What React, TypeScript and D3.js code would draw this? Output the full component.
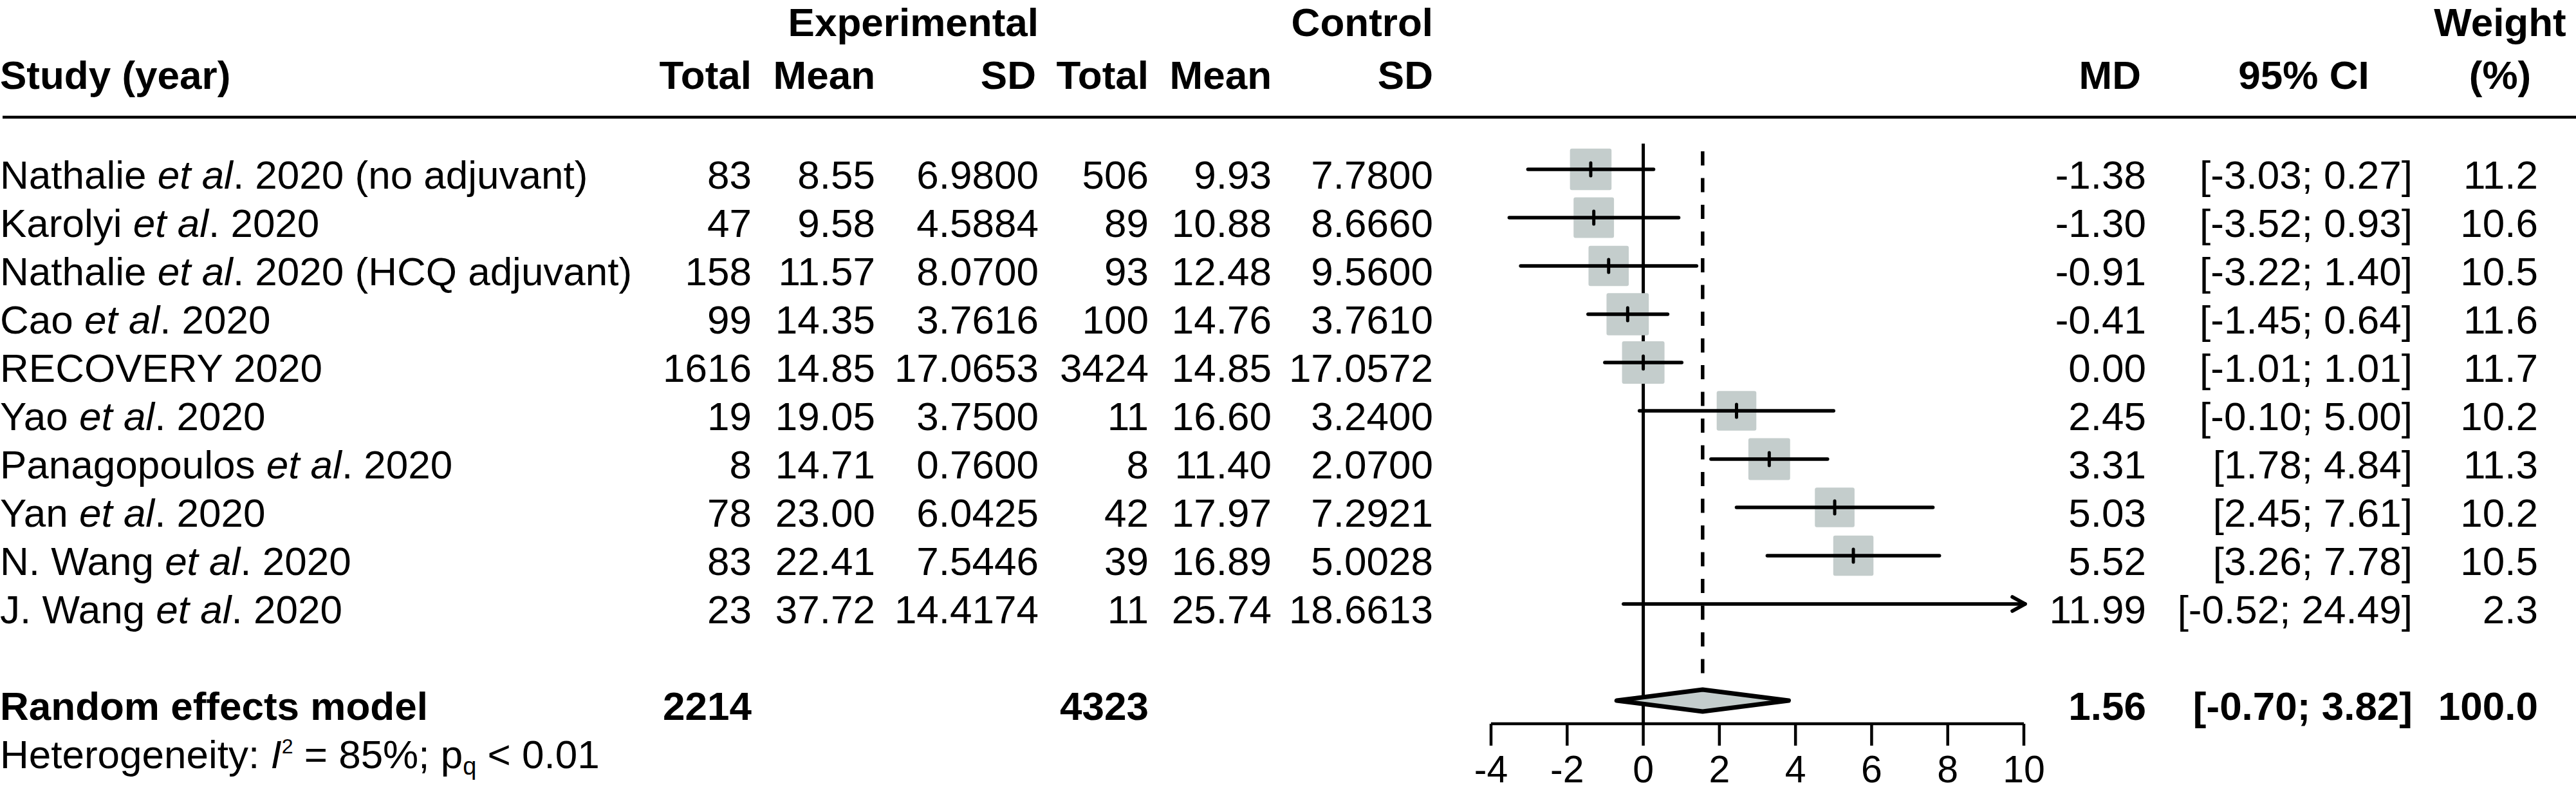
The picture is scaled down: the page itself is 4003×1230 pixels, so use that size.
import React from "react";
import * as d3 from "d3";

const studies = [
  ["Nathalie ", "et al", ". 2020 (no adjuvant)"],
  ["Karolyi ", "et al", ". 2020"],
  ["Nathalie ", "et al", ". 2020 (HCQ adjuvant)"],
  ["Cao ", "et al", ". 2020"],
  ["RECOVERY 2020", "", ""],
  ["Yao ", "et al", ". 2020"],
  ["Panagopoulos ", "et al", ". 2020"],
  ["Yan ", "et al", ". 2020"],
  ["N. Wang ", "et al", ". 2020"],
  ["J. Wang ", "et al", ". 2020"],
];
const expTotal = ["83", "47", "158", "99", "1616", "19", "8", "78", "83", "23"];
const expMean = ["8.55", "9.58", "11.57", "14.35", "14.85", "19.05", "14.71", "23.00", "22.41", "37.72"];
const expSD = ["6.9800", "4.5884", "8.0700", "3.7616", "17.0653", "3.7500", "0.7600", "6.0425", "7.5446", "14.4174"];
const ctrlTotal = ["506", "89", "93", "100", "3424", "11", "8", "42", "39", "11"];
const ctrlMean = ["9.93", "10.88", "12.48", "14.76", "14.85", "16.60", "11.40", "17.97", "16.89", "25.74"];
const ctrlSD = ["7.7800", "8.6660", "9.5600", "3.7610", "17.0572", "3.2400", "2.0700", "7.2921", "5.0028", "18.6613"];
const md = [-1.38, -1.3, -0.91, -0.41, 0.0, 2.45, 3.31, 5.03, 5.52, 11.99];
const ciLo = [-3.03, -3.52, -3.22, -1.45, -1.01, -0.1, 1.78, 2.45, 3.26, -0.52];
const ciHi = [0.27, 0.93, 1.4, 0.64, 1.01, 5.0, 4.84, 7.61, 7.78, 24.49];
const weight = [11.2, 10.6, 10.5, 11.6, 11.7, 10.2, 11.3, 10.2, 10.5, 2.3];

const pooled = { md: 1.56, lo: -0.7, hi: 3.82, expN: "2214", ctrlN: "4323", weight: "100.0" };
const tickValues = [-4, -2, 0, 2, 4, 6, 8, 10];

const FONT = "'Liberation Sans', Arial, Helvetica, sans-serif";
const FS = 62;
const BOX = "#c4cdcc";

const locale = d3.formatLocale({ decimal: ".", thousands: ",", grouping: [3], currency: ["", ""], minus: "-" });
const fmt2 = locale.format(".2f");
const fmt1 = locale.format(".1f");

export default function App() {
  const W = 4003;
  const H = 1230;
  const x = d3.scaleLinear().domain([-4, 10]).range([2317, 3145]);
  const y = d3.scaleLinear().domain([0, 1]).range([263, 338]);
  const size = d3.scaleSqrt().domain([0, 11.7]).range([0, 66]);
  const axisY = 1124;
  const base = 30;
  const pooledRow = 11;
  const hetRow = 12;
  const cols = {
    expTotal: 1168,
    expMean: 1360,
    expSD: 1614,
    ctrlTotal: 1785,
    ctrlMean: 1976,
    ctrlSD: 2227,
    md: 3335,
    ci: 3749,
    w: 3944,
  };
  const ciText = (lo: number, hi: number) => `[${fmt2(lo)}; ${fmt2(hi)}]`;
  const py = y(pooledRow);
  const dh = 17;
  const diamond = [
    [x(pooled.lo), py],
    [x(pooled.md), py - dh],
    [x(pooled.hi), py],
    [x(pooled.md), py + dh],
  ];
  const [xmin, xmax] = x.domain();

  return (
    <svg
      width={W}
      height={H}
      style={{ position: "absolute", left: 0, top: 0, background: "#fff" }}
      fontFamily={FONT}
      fontSize={FS}
    >
      <rect x={0} y={0} width={W} height={H} fill="#fff" />
      {/* headers */}
      <g fontWeight="bold" fill="#000">
        <text x={cols.expSD} y={56} textAnchor="end">Experimental</text>
        <text x={cols.ctrlSD} y={56} textAnchor="end">Control</text>
        <text x={3885} y={56} textAnchor="middle">Weight</text>
        <text x={0} y={138}>Study (year)</text>
        <text x={cols.expTotal} y={138} textAnchor="end">Total</text>
        <text x={cols.expMean} y={138} textAnchor="end">Mean</text>
        <text x={cols.expSD - 4} y={138} textAnchor="end">SD</text>
        <text x={cols.ctrlTotal} y={138} textAnchor="end">Total</text>
        <text x={cols.ctrlMean} y={138} textAnchor="end">Mean</text>
        <text x={cols.ctrlSD} y={138} textAnchor="end">SD</text>
        <text x={3327} y={138} textAnchor="end">MD</text>
        <text x={3580} y={138} textAnchor="middle">95% CI</text>
        <text x={3885} y={138} textAnchor="middle">(%)</text>
      </g>
      <line x1={4} x2={W} y1={182} y2={182} stroke="#000" strokeWidth={4.5} />

      {/* reference lines */}
      <line x1={x(0)} x2={x(0)} y1={223} y2={axisY} stroke="#000" strokeWidth={5} />
      <line
        x1={x(pooled.md)}
        x2={x(pooled.md)}
        y1={235}
        y2={1052}
        stroke="#000"
        strokeWidth={5.5}
        strokeDasharray="22 19.5"
      />

      {/* study rows */}
      {studies.map((s, i) => {
        const ry = y(i);
        const inRange = md[i] >= xmin && md[i] <= xmax;
        const side = size(weight[i]);
        const lo = Math.max(ciLo[i], xmin);
        const hiClipped = ciHi[i] > xmax;
        const hi = Math.min(ciHi[i], xmax);
        const tip = x(hi) + (hiClipped ? 2 : 0);
        return (
          <g key={i}>
            <text x={0} y={ry + base}>
              {s[0]}
              {s[1] && <tspan fontStyle="italic">{s[1]}</tspan>}
              {s[2]}
            </text>
            <text x={cols.expTotal} y={ry + base} textAnchor="end">{expTotal[i]}</text>
            <text x={cols.expMean} y={ry + base} textAnchor="end">{expMean[i]}</text>
            <text x={cols.expSD} y={ry + base} textAnchor="end">{expSD[i]}</text>
            <text x={cols.ctrlTotal} y={ry + base} textAnchor="end">{ctrlTotal[i]}</text>
            <text x={cols.ctrlMean} y={ry + base} textAnchor="end">{ctrlMean[i]}</text>
            <text x={cols.ctrlSD} y={ry + base} textAnchor="end">{ctrlSD[i]}</text>
            <text x={cols.md} y={ry + base} textAnchor="end">{fmt2(md[i])}</text>
            <text x={cols.ci} y={ry + base} textAnchor="end">{ciText(ciLo[i], ciHi[i])}</text>
            <text x={cols.w} y={ry + base} textAnchor="end">{fmt1(weight[i])}</text>
            {inRange && (
              <rect
                x={x(md[i]) - side / 2}
                y={ry - side / 2}
                width={side}
                height={side}
                rx={3}
                fill={BOX}
              />
            )}
            <line
              x1={x(lo)}
              x2={tip}
              y1={ry}
              y2={ry}
              stroke="#000"
              strokeWidth={5.5}
              strokeLinecap="round"
            />
            {hiClipped && (
              <polyline
                points={`${tip - 20},${ry - 11} ${tip},${ry} ${tip - 20},${ry + 11}`}
                fill="none"
                stroke="#000"
                strokeWidth={5.5}
                strokeLinecap="round"
                strokeLinejoin="round"
              />
            )}
            {inRange && (
              <line
                x1={x(md[i])}
                x2={x(md[i])}
                y1={ry - 10}
                y2={ry + 10}
                stroke="#000"
                strokeWidth={5}
                strokeLinecap="round"
              />
            )}
          </g>
        );
      })}

      {/* pooled */}
      <g fontWeight="bold">
        <text x={0} y={py + base}>Random effects model</text>
        <text x={cols.expTotal} y={py + base} textAnchor="end">{pooled.expN}</text>
        <text x={cols.ctrlTotal} y={py + base} textAnchor="end">{pooled.ctrlN}</text>
        <text x={cols.md} y={py + base} textAnchor="end">{fmt2(pooled.md)}</text>
        <text x={cols.ci} y={py + base} textAnchor="end">{ciText(pooled.lo, pooled.hi)}</text>
        <text x={cols.w} y={py + base} textAnchor="end">{pooled.weight}</text>
      </g>
      <path
        d={(d3.line()(diamond as [number, number][]) || "") + "Z"}
        fill={BOX}
        stroke="#000"
        strokeWidth={7}
        strokeLinejoin="round"
      />
      <text x={0} y={y(hetRow) + base}>
        Heterogeneity: <tspan fontStyle="italic">I</tspan>
        <tspan fontSize={32} dy={-23}>2</tspan>
        <tspan dy={23}> = 85%; p</tspan>
        <tspan fontSize={38} dy={10}>q</tspan>
        <tspan dy={-10}> &lt; 0.01</tspan>
      </text>

      {/* axis */}
      <line x1={x(xmin)} x2={x(xmax)} y1={axisY} y2={axisY} stroke="#000" strokeWidth={4.5} />
      {tickValues.map((t) => (
        <g key={t}>
          <line x1={x(t)} x2={x(t)} y1={axisY} y2={axisY + 34} stroke="#000" strokeWidth={4.5} />
          <text x={x(t)} y={1215} textAnchor="middle" fontSize={59}>
            {String(t)}
          </text>
        </g>
      ))}
    </svg>
  );
}
